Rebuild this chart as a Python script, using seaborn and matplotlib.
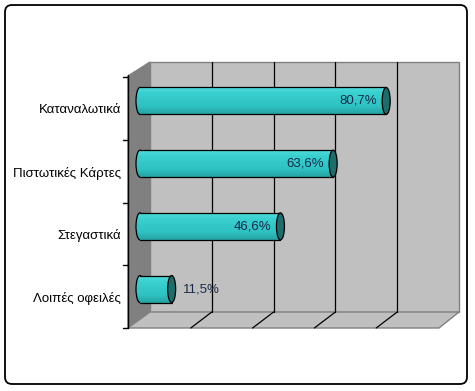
import numpy as np
import pandas as pd
import seaborn as sns
import matplotlib
matplotlib.use("Agg")
import matplotlib.pyplot as plt
import matplotlib.transforms as mtransforms
from matplotlib.patches import Ellipse, Polygon, Rectangle, FancyBboxPatch
from matplotlib.colors import LinearSegmentedColormap

# ---- data ----
categories = ["Καταναλωτικά", "Πιστωτικές Κάρτες", "Στεγαστικά", "Λοιπές οφειλές"]
values = [80.7, 63.6, 46.6, 11.5]
x_ticks = [0, 20, 40, 60, 80, 100]

sns.set_theme(style="white")
plt.rcParams["font.family"] = ["Liberation Sans", "DejaVu Sans"]

W, H = 475, 391
fig = plt.figure(figsize=(W / 100, H / 100), dpi=100)
fig.patch.set_facecolor("white")

# ---- background (3D walls) in pixel coordinates ----
bg = fig.add_axes([0, 0, 1, 1], zorder=0)
bg.set_xlim(0, W)
bg.set_ylim(H, 0)
bg.axis("off")

bg.add_patch(FancyBboxPatch((5, 5), 462, 379, boxstyle="round,pad=0,rounding_size=7",
                            fc="white", ec="black", lw=1.3))
wall_l, wall_r, wall_t, wall_b = 150, 459, 62, 312
dx, dyb, dyt = -22, 16, 14
bg.add_patch(Rectangle((wall_l, wall_t), wall_r - wall_l, wall_b - wall_t,
                       fc="#C0C0C0", ec="#808080", lw=1))
bg.add_patch(Polygon([(wall_l + dx, wall_t + dyt), (wall_l, wall_t), (wall_l, wall_b),
                      (wall_l + dx, wall_b + dyb)], closed=True, fc="#808080", ec="#808080", lw=1))
bg.add_patch(Polygon([(wall_l + dx, wall_b + dyb), (wall_l, wall_b), (wall_r, wall_b),
                      (wall_r + dx + 2, wall_b + dyb)], closed=True, fc="#C0C0C0", ec="#808080", lw=1))
scale = (wall_r - wall_l) / (x_ticks[-1] - x_ticks[0])
for v in x_ticks[1:-1]:
    gx = wall_l + v * scale
    bg.plot([gx, gx], [wall_t, wall_b], color="black", lw=0.9)
    bg.plot([gx, gx + dx + 1], [wall_b, wall_b + dyb], color="black", lw=0.9)
# front category axis
ax_x = wall_l + dx
front_top, front_bot = wall_t + dyt + 1, wall_b + dyb
bg.plot([ax_x, ax_x], [front_top - 2, front_bot], color="black", lw=1)
n = len(categories)
for k in range(n + 1):
    ty = front_top + k * (front_bot - front_top) / n
    bg.plot([ax_x - 5, ax_x], [ty, ty], color="black", lw=1)

# ---- bars ----
px_per_unit = 3.1
zero_px = 136
left_px, right_px = 130, zero_px + 100 * px_per_unit
yt, yb = 69.6, 320.4
ax = fig.add_axes([left_px / W, 1 - yb / H, (right_px - left_px) / W, (yb - yt) / H], zorder=1)
ax.patch.set_alpha(0)
df = pd.DataFrame({"cat": categories, "val": values})
sns.barplot(data=df, x="val", y="cat", orient="h", color="#33CCCC", width=0.43,
            edgecolor="none", saturation=1, ax=ax)
xmin = -(zero_px - left_px) / px_per_unit
for s in ax.spines.values():
    s.set_visible(False)
ax.set_xticks([])
ax.set_xlabel("")
ax.set_ylabel("")
ax.tick_params(axis="y", length=0, pad=6.5, labelsize=9.5, labelcolor="black")
off = mtransforms.ScaledTranslation(0, -8 / 100, fig.dpi_scale_trans)
for lbl in ax.get_yticklabels():
    lbl.set_transform(lbl.get_transform() + off)

cmap = LinearSegmentedColormap.from_list("cyl", [(0, "#4FDADA"), (0.25, "#38CFCF"),
                                                 (0.7, "#2FC2C2"), (1, "#26A3A3")])
grad = np.linspace(0, 1, 64).reshape(-1, 1)
cap_w = 8 / px_per_unit
for p, v in zip(ax.patches, values):
    bx, by, bw, bh = p.get_x(), p.get_y(), p.get_width(), p.get_height()
    yc = by + bh / 2
    le = Ellipse((bx + cap_w / 2, yc), cap_w, bh, fc="#33CCCC", ec="none", zorder=2)
    ax.add_patch(le)
    im0 = ax.imshow(grad, cmap=cmap, aspect="auto",
                    extent=[bx - cap_w, bx + 2 * cap_w, by + bh, by],
                    zorder=2.1, interpolation="bilinear")
    im0.set_clip_path(le)
    ax.add_patch(Ellipse((bx + cap_w / 2, yc), cap_w, bh, fc="none", ec="black", lw=0.9, zorder=2.2))
    p.set_x(bx + cap_w / 2)
    p.set_width(bw - cap_w / 2)
    p.set_zorder(3)
    im = ax.imshow(grad, cmap=cmap, aspect="auto", extent=[bx + cap_w / 2, bx + bw, by + bh, by],
                   zorder=3.1, interpolation="bilinear")
    im.set_clip_path(p)
    ax.plot([bx + cap_w / 2, bx + bw], [by, by], color="black", lw=0.9, zorder=4)
    ax.plot([bx + cap_w / 2, bx + bw], [by + bh, by + bh], color="black", lw=0.9, zorder=4)
    ax.add_patch(Ellipse((bx + bw, yc), cap_w, bh, fc="#1E6C6C", ec="black", lw=0.9, zorder=5))
    txt = f"{v:.1f}".replace(".", ",") + "%"
    if v > 30:
        ax.annotate(txt, (bx + bw, yc), xytext=(-9, 0), textcoords="offset pixels",
                    ha="right", va="center", fontsize=9.5, color="#1B2A48", zorder=6)
    else:
        ax.annotate(txt, (bx + bw, yc), xytext=(11, 0), textcoords="offset pixels",
                    ha="left", va="center", fontsize=9.5, color="#1B2A48", zorder=6)
ax.set_xlim(xmin, 100)
ax.set_ylim(len(categories) - 0.5, -0.5)

fig.savefig("out.png", dpi=100)
